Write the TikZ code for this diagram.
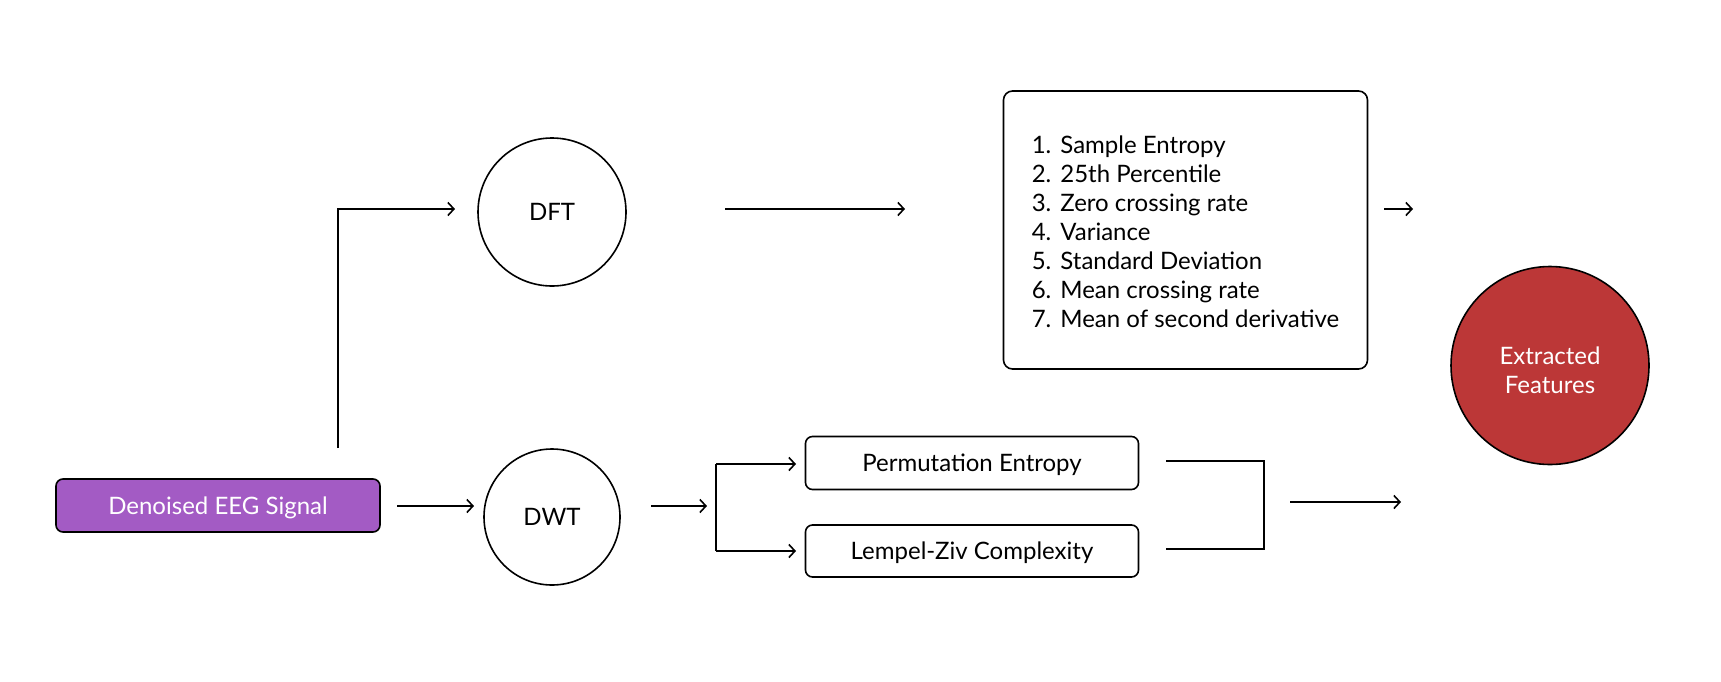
\documentclass[tikz,border=0pt]{standalone}
\usepackage{fontspec}
\setmainfont{Lato}
\usetikzlibrary{arrows.meta}
\definecolor{eegpurple}{HTML}{A35BC4}
\definecolor{featred}{HTML}{BC3737}
\frenchspacing
\newcommand\listnum[1]{#1.\hspace{9pt}}
\begin{document}
\begin{tikzpicture}[x=1pt,y=-1pt,
  every node/.style={font=\fontsize{24}{29}\selectfont},
  conn/.style={line width=1.6pt,-{Straight Barb[length=6pt,width=13pt,line width=1.6pt]}},
  plain/.style={line width=1.6pt},
  roundbox/.style={draw,line width=1.6pt,rounded corners=7pt,inner sep=0pt,text depth=0pt},
  circ/.style={draw,circle,line width=1.6pt,inner sep=0pt}]
\useasboundingbox (0,0) rectangle (1721,681);
\fill[white] (0,0) rectangle (1721,681);
% nodes
\node[roundbox,fill=eegpurple,text=white,minimum width=324pt,minimum height=53pt] (eeg) at (218,505.5) {Denoised EEG Signal};
\node[circ,minimum size=148pt] (dft) at (552,212) {DFT};
\node[circ,minimum size=136pt] (dwt) at (552,517) {\raisebox{-2pt}{DWT}};
\node[roundbox,rounded corners=9pt,minimum height=278pt,minimum width=364pt,text depth=,align=left] (list) at (1185.5,230)
 {\rule{0pt}{21pt}\listnum{1}Sample Entropy\\\listnum{2}25th Percentile\\\listnum{3}Zero crossing rate\\\listnum{4}Variance\\\listnum{5}Standard Deviation\\\listnum{6}Mean crossing rate\\\listnum{7}Mean of second derivative};
\node[circ,fill=featred,text=white,minimum size=198pt,align=center] (feat) at (1550,365.5) {\rule{0pt}{28pt}Extracted\\Features};
\node[roundbox,minimum width=333pt,minimum height=53pt] (perm) at (972,463) {Permutation Entropy};
\node[roundbox,minimum width=333pt,minimum height=52pt] (lz) at (972,551) {Lempel-Ziv Complexity};
% coordinates
\coordinate (e1) at (338,448);
\coordinate (e2) at (338,209);
\coordinate (e3) at (455,209);
\coordinate (d1) at (725,209);
\coordinate (d2) at (905,209);
\coordinate (s1) at (1384,209);
\coordinate (s2) at (1413,209);
\coordinate (a1) at (397,506);
\coordinate (a2) at (474,506);
\coordinate (w1) at (651,506);
\coordinate (w2) at (707,506);
\coordinate (bt) at (716,464);
\coordinate (bb) at (716,551);
\coordinate (pt) at (796,464);
\coordinate (pb) at (796,551);
\coordinate (m1) at (1166,461);
\coordinate (m2) at (1264,461);
\coordinate (m3) at (1264,549);
\coordinate (m4) at (1166,549);
\coordinate (f1) at (1290,502);
\coordinate (f2) at (1401,502);
% connectors
\draw[conn] (e1) -- (e2) -- (e3);
\draw[conn] (d1) -- (d2);
\draw[conn] (s1) -- (s2);
\draw[conn] (a1) -- (a2);
\draw[conn] (w1) -- (w2);
\draw[conn] (bt) -- (pt);
\draw[conn] (bb) -- (pb);
\draw[plain] (bt) -- (bb);
\draw[plain] (m1) -- (m2) -- (m3) -- (m4);
\draw[conn] (f1) -- (f2);
\end{tikzpicture}
\end{document}
